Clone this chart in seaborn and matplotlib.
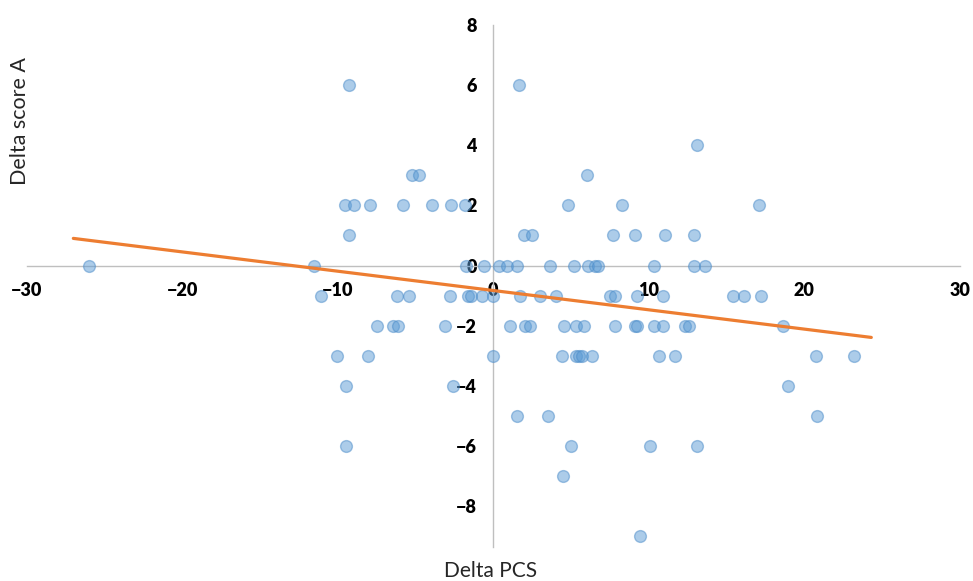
import numpy as np
import pandas as pd
import matplotlib
matplotlib.use("Agg")
import matplotlib.pyplot as plt
import seaborn as sns

# points, grouped by their (integer) Delta score A value
row_6 = [-9.3, 1.65]
row_4 = [13.1]
row_3 = [-5.25, -4.75, 6.05]
row_2 = [-9.55, -8.95, -7.9, -5.8, -3.95, -2.7, -1.8, 4.8, 8.3, 17.05]
row_1 = [-9.25, 1.95, 2.5, 7.7, 9.1, 11.05, 12.9]
row_0 = [-26.0, -11.5, -1.75, -0.6, 0.35, 0.85, 1.5, 3.65, 5.2, 6.1, 6.55, 6.7, 10.3, 12.9, 13.6]
row_m1 = [-11.1, -6.2, -5.4, -2.8, -1.6, -1.45, -0.7, 0.0, 1.7, 3.0, 4.05,
          7.5, 7.85, 9.25, 10.9, 15.4, 16.1, 17.2]
row_m2 = [-7.5, -6.45, -6.15, -3.1, 1.1, 2.05, 2.35, 4.55, 5.3, 5.8, 7.85,
          9.1, 9.25, 10.3, 10.9, 12.35, 12.6, 18.6]
row_m3 = [-10.05, -8.05, 0.0, 4.4, 5.3, 5.5, 5.7, 6.35, 10.65, 11.7, 20.75, 23.2]
row_m4 = [-9.5, -2.6, 18.95]
row_m5 = [1.5, 3.5, 20.8]
row_m6 = [-9.45, 5.0, 10.1, 13.1]
row_m7 = [4.5]
row_m9 = [9.4]

rows = {6: row_6, 4: row_4, 3: row_3, 2: row_2, 1: row_1, 0: row_0,
        -1: row_m1, -2: row_m2, -3: row_m3, -4: row_m4, -5: row_m5,
        -6: row_m6, -7: row_m7, -9: row_m9}

df = pd.DataFrame([(x, y) for y, xs in rows.items() for x in xs],
                  columns=["Delta PCS", "Delta score A"])

# linear trendline as drawn in the chart
trend_slope = -0.0642
trend_intercept = -0.83
trend_x = [-27.0, 24.3]
trend = pd.DataFrame({"x": trend_x})
trend["y"] = trend_intercept + trend_slope * trend["x"]

sns.set_style("white")
plt.rcParams["font.family"] = ["Lato", "DejaVu Sans"]

fig = plt.figure(figsize=(9.73, 5.81), dpi=100)
ax = fig.add_axes([0.0274, 0.059, 0.9592, 0.898])

sns.scatterplot(data=df, x="Delta PCS", y="Delta score A", ax=ax,
                s=72, color="#5b9bd5", alpha=0.5, edgecolor="#4a8bc8",
                linewidth=1.0, zorder=3)
sns.lineplot(data=trend, x="x", y="y", ax=ax, color="#ed7d31",
             linewidth=2.3, zorder=4, solid_capstyle="round")

ax.set_xlim(-30, 30)
ax.set_ylim(-9.35, 8)
ax.set_xticks([-30, -20, -10, 0, 10, 20, 30])
ax.set_yticks([-8, -6, -4, -2, 0, 2, 4, 6, 8])

for side in ["top", "right"]:
    ax.spines[side].set_visible(False)
ax.spines["left"].set_position(("data", 0))
ax.spines["bottom"].set_position(("data", 0))
for side in ["left", "bottom"]:
    ax.spines[side].set_color("#bfbfbf")
    ax.spines[side].set_linewidth(1.0)
    ax.spines[side].set_zorder(1)

ax.tick_params(axis="both", length=0, labelsize=13, labelcolor="black")
ax.tick_params(axis="x", pad=12)
ax.tick_params(axis="y", pad=12)
for lab in ax.get_xticklabels() + ax.get_yticklabels():
    lab.set_fontweight("heavy")

ax.set_xlabel("")
ax.set_ylabel("")
fig.text(20 / 973, 1 - 121 / 581, "Delta score A", rotation=90,
         ha="center", va="center", fontsize=15.5, color="#262626")
fig.text(491 / 973, 1 - 571 / 581, "Delta PCS",
         ha="center", va="center", fontsize=15, color="#262626")

fig.savefig("out.png", dpi=100)
